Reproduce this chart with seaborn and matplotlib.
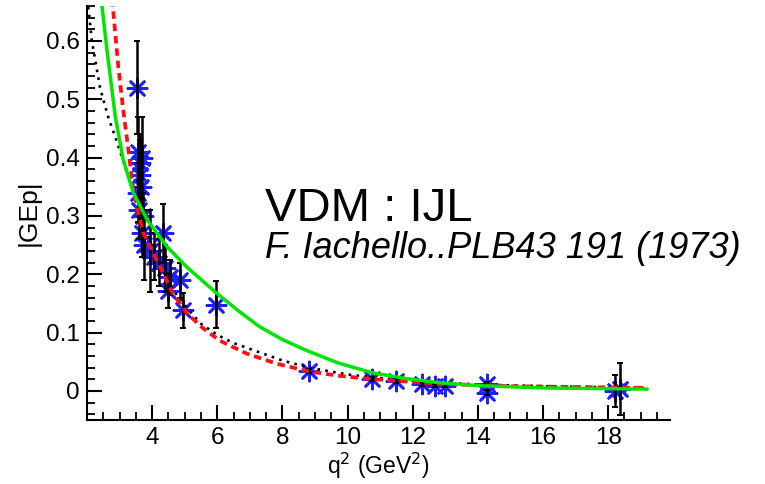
import numpy as np
import pandas as pd
import matplotlib
matplotlib.use('Agg')
import matplotlib.pyplot as plt
from matplotlib.ticker import MultipleLocator
import seaborn as sns

# measured |GEp| points (q2 in GeV^2)
q2 = [3.52, 3.58, 3.64, 3.70, 3.62, 3.56, 3.66, 3.72, 3.60, 3.68, 3.76, 3.94, 4.05,
      4.34, 4.20, 4.40, 4.55, 4.48, 4.86, 4.95, 5.95, 8.83, 10.76, 11.50, 12.30,
      12.70, 13.00, 14.28, 14.28, 18.20, 18.36]
gep = [0.52, 0.41, 0.39, 0.40, 0.37, 0.34, 0.35, 0.30, 0.31, 0.27, 0.25, 0.24, 0.23,
       0.27, 0.22, 0.21, 0.195, 0.172, 0.19, 0.138, 0.148, 0.034, 0.020, 0.017, 0.012,
       0.009, 0.009, 0.012, -0.003, 0.000, 0.003]
gep_err = [0.08, 0.06, 0.05, 0.07, 0.06, 0.05, 0.05, 0.04, 0.05, 0.04, 0.06, 0.07, 0.04,
           0.05, 0.04, 0.04, 0.03, 0.03, 0.03, 0.03, 0.04, 0.004, 0.003, 0.003, 0.003,
           0.003, 0.003, 0.004, 0.004, 0.028, 0.045]

# model curves
green_q2 = [2.42, 2.46, 2.61, 2.87, 3.11, 3.42, 3.85, 4.46, 5.07, 5.99, 6.70, 7.30,
            8.00, 8.75, 9.70, 10.76, 11.80, 12.80, 14.00, 16.00, 19.20]
green_ge = [0.69, 0.66, 0.586, 0.47, 0.397, 0.34, 0.293, 0.247, 0.212, 0.167, 0.135, 0.11,
            0.088, 0.069, 0.048, 0.031, 0.021, 0.014, 0.009, 0.005, 0.003]
red_q2 = [2.76, 2.80, 2.96, 3.11, 3.27, 3.42, 3.72, 4.25, 4.64, 5.07, 5.55, 6.08, 6.90,
          7.80, 8.75, 9.70, 10.76, 12.80, 15.00, 19.20]
red_ge = [0.70, 0.655, 0.557, 0.483, 0.414, 0.345, 0.272, 0.212, 0.167, 0.133, 0.108,
          0.086, 0.064, 0.047, 0.034, 0.026, 0.02, 0.012, 0.008, 0.005]
dot_q2 = [2.0, 2.15, 2.40, 2.65, 2.90, 3.20, 3.50, 3.75, 4.25, 4.65, 5.10, 5.50, 6.00,
          6.50, 7.10, 8.00, 8.80, 10.0, 11.0, 12.5, 14.0, 16.0, 19.2]
dot_ge = [0.68, 0.60, 0.52, 0.47, 0.43, 0.38, 0.33, 0.28, 0.215, 0.172, 0.14, 0.115,
          0.096, 0.082, 0.07, 0.052, 0.04, 0.028, 0.022, 0.015, 0.011, 0.008, 0.005]

df = pd.DataFrame({'q2': q2, 'gep': gep, 'err': gep_err})

sns.set_style('ticks')
plt.rcParams['font.family'] = ['Liberation Sans', 'DejaVu Sans']
plt.rcParams['text.color'] = 'black'
plt.rcParams['axes.labelcolor'] = 'black'

fig = plt.figure(figsize=(7.65, 4.84), dpi=100)
ax = fig.add_axes([87 / 765, 64 / 484, 583 / 765, 414 / 484])

sns.scatterplot(data=df, x='q2', y='gep', ax=ax, marker=(8, 2, 0), s=190,
                color='#1f1fff', linewidth=1.9, edgecolor='#1f1fff', zorder=2)
ax.errorbar(df['q2'], df['gep'], yerr=df['err'], fmt='none', ecolor='black',
            elinewidth=1.8, capsize=2.5, capthick=1.4, zorder=3)

sns.lineplot(x=dot_q2, y=dot_ge, ax=ax, sort=False, color='black', linewidth=1.9,
             linestyle=(0, (1, 2)), zorder=4)
sns.lineplot(x=red_q2, y=red_ge, ax=ax, sort=False, color='#ff1010', linewidth=2.7,
             linestyle=(0, (2, 1.3)), zorder=5)
sns.lineplot(x=green_q2, y=green_ge, ax=ax, sort=False, color='#00e600', linewidth=2.5,
             zorder=6)

ax.set_xlim(2.0, 19.9)
ax.set_ylim(-0.05, 0.66)
ax.set_xticks([4, 6, 8, 10, 12, 14, 16, 18])
ax.set_yticks([0, 0.1, 0.2, 0.3, 0.4, 0.5, 0.6])
ax.set_yticklabels(['0', '0.1', '0.2', '0.3', '0.4', '0.5', '0.6'])
ax.xaxis.set_minor_locator(MultipleLocator(0.5))
ax.yaxis.set_minor_locator(MultipleLocator(0.02))
ax.tick_params(which='major', direction='in', length=11, width=1.5, labelsize=17.5,
               pad=5, colors='black')
ax.tick_params(which='minor', direction='in', length=6, width=1.3, colors='black')

sns.despine(ax=ax)
for s in ['left', 'bottom']:
    ax.spines[s].set_linewidth(1.5)
    ax.spines[s].set_color('black')

ax.set_xlabel(r'q$^{2}$ (GeV$^{2}$)', fontsize=16.5, labelpad=1)
ax.set_ylabel('|GEp|', fontsize=19, labelpad=4)

fig.text(265 / 765, 1 - 221 / 484, 'VDM : IJL', fontsize=34, va='baseline', ha='left')
fig.text(265 / 765, 1 - 258 / 484, 'F. Iachello..PLB43 191 (1973)', fontsize=26,
         style='italic', va='baseline', ha='left')

fig.savefig('out.png', dpi=100)
